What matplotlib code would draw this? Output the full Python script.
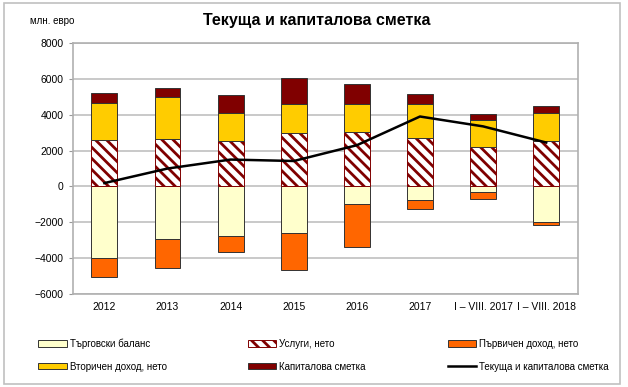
import numpy as np
import matplotlib.pyplot as plt
from matplotlib.patches import Rectangle

plt.rcParams['font.family'] = ['Liberation Sans', 'DejaVu Sans']
plt.rcParams['hatch.linewidth'] = 2.0

categories = ['2012', '2013', '2014', '2015', '2016', '2017',
              'I – VIII. 2017', 'I – VIII. 2018']
trade = [-3990, -2910, -2750, -2600, -980, -760, -330, -1970]
services = [2580, 2650, 2540, 2970, 3040, 2730, 2190, 2540]
primary = [-1050, -1610, -890, -2060, -2410, -500, -350, -185]
secondary = [2060, 2360, 1580, 1630, 1580, 1860, 1500, 1540]
capital = [590, 500, 1000, 1470, 1090, 580, 350, 430]
total = [190, 1000, 1500, 1420, 2300, 3900, 3350, 2450]

names = ['Търговски баланс', 'Услуги, нето', 'Първичен доход, нето',
         'Вторичен доход, нето', 'Капиталова сметка',
         'Текуща и капиталова сметка']

fig = plt.figure(figsize=(6.28, 3.87), dpi=100)
ax = fig.add_axes([0.116, 0.240, 0.804, 0.649])

x = np.arange(len(categories))
w = 0.41
pos = np.zeros(len(x))
neg = np.zeros(len(x))

series = [(trade, '#FFFFCC', None, '#333333'),
          (services, 'white', '\\\\\\', '#800000'),
          (primary, '#FF6600', None, '#333333'),
          (secondary, '#FFCC00', None, '#333333'),
          (capital, '#800000', None, '#333333')]
handles = []
for vals, fc, hatch, ec in series:
    v = np.array(vals, dtype=float)
    bottom = np.where(v >= 0, pos, neg)
    b = ax.bar(x, v, w, bottom=bottom, color=fc, hatch=hatch,
               edgecolor=ec, linewidth=0.7, zorder=3)
    handles.append(b)
    pos = np.where(v >= 0, pos + v, pos)
    neg = np.where(v < 0, neg + v, neg)

ln, = ax.plot(x, total, color='black', linewidth=1.8, zorder=4)
handles.append(ln)

ax.set_xlim(-0.5, len(x) - 0.5)
ax.set_ylim(-6000, 8000)
ax.set_yticks(np.arange(-6000, 8001, 2000))
ax.set_xticks(x)
ax.set_xticklabels(categories)
ax.tick_params(axis='both', labelsize=7.5, colors='black')
ax.tick_params(axis='x', length=0, pad=6)
ax.tick_params(axis='y', length=3, color='#999999')
ax.grid(axis='y', color='#c0c0c0', linewidth=1.2, zorder=0)
for s in ax.spines.values():
    s.set_color('#b0b0b0')
    s.set_linewidth(1.2)

fig.text(0.048, 0.938, 'млн. евро', fontsize=7)
fig.text(0.505, 0.935, 'Текуща и капиталова сметка', fontsize=11.5,
         fontweight='bold', ha='center')

order = [0, 3, 1, 4, 2, 5]
leg = fig.legend([handles[i] for i in order], [names[i] for i in order],
                 ncol=3, loc='lower left',
                 bbox_to_anchor=(0.055, 0.03, 0.92, 0.13), mode='expand',
                 frameon=False, fontsize=7, handlelength=2.9,
                 handleheight=0.6, handletextpad=0.3, labelspacing=1.3,
                 borderaxespad=0)

fig.patches.append(Rectangle((0.006, 0.008), 0.982, 0.985,
                             transform=fig.transFigure, fill=False,
                             edgecolor='#c0c0c0', linewidth=1.2))

fig.savefig('out.png', dpi=100)
